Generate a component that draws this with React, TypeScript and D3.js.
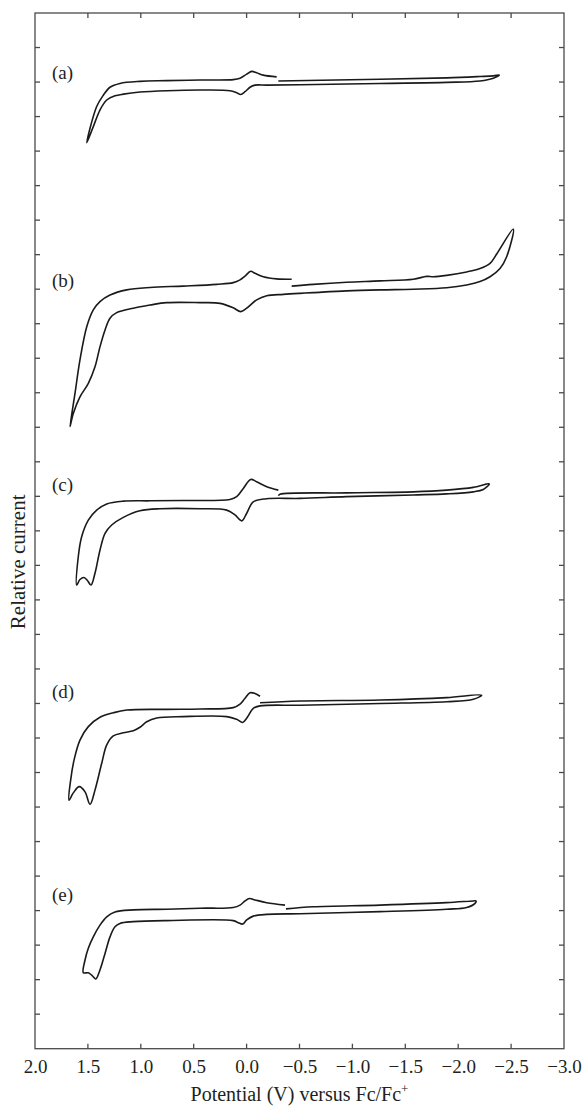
import React, { useEffect, useRef } from "react";
import * as d3 from "d3";

const W = 584;
const H = 1106;
const plot = { left: 35, right: 564, top: 13, bottom: 1048.7 };

const xTickValues = [2.0, 1.5, 1.0, 0.5, 0.0, -0.5, -1.0, -1.5, -2.0, -2.5, -3.0];
const yTickValues = [0, 1, 2, 3, 4, 5, 6, 7, 8, 9, 10, 11, 12, 13, 14, 15, 16, 17, 18, 19, 20, 21, 22, 23, 24, 25, 26, 27, 28, 29, 30];
const panelLabels = ["(a)", "(b)", "(c)", "(d)", "(e)"];
const panelLabelLevels = [28.09, 22.06, 16.15, 10.16, 4.28];
const panelLabelPotential = 1.84;

type P = [number, number];

// Panel (a)
const aLower: P[] = [[1.511,26.24],[1.449,26.71],[1.386,27.19],[1.322,27.48],[1.244,27.60],[1.165,27.65],[1.008,27.71],[0.755,27.75],[0.44,27.77],[0.157,27.75],[0.094,27.69],[0.056,27.64],[0.015,27.72],[-0.032,27.85],[-0.079,27.91],[-0.19,27.91],[-0.505,27.92],[-1.261,27.96],[-1.891,27.99],[-2.206,28.03],[-2.332,28.11],[-2.389,28.20]];
const aUpperLeft: P[] = [[1.511,26.24],[1.417,27.29],[1.354,27.62],[1.291,27.85],[1.197,27.96],[1.008,28.02],[0.755,28.04],[0.44,28.06],[0.126,28.07],[0.062,28.11],[-0.001,28.23],[-0.048,28.31],[-0.095,28.27],[-0.158,28.20],[-0.284,28.15]];
const aUpperRight: P[] = [[-0.30,28.03],[-1.261,28.08],[-1.891,28.12],[-2.206,28.16],[-2.332,28.18],[-2.389,28.20]];

// Panel (b)
const bLower: P[] = [[1.669,18.02],[1.638,18.40],[1.575,18.88],[1.496,19.27],[1.433,19.75],[1.386,20.33],[1.338,20.82],[1.291,21.16],[1.228,21.32],[1.071,21.45],[0.913,21.54],[0.755,21.61],[0.44,21.61],[0.251,21.59],[0.126,21.46],[0.056,21.35],[-0.001,21.45],[-0.095,21.69],[-0.19,21.81],[-0.347,21.85],[-0.505,21.88],[-0.63,21.90],[-0.946,21.95],[-1.261,21.98],[-1.576,22.00],[-1.891,22.04],[-2.08,22.12],[-2.206,22.22],[-2.301,22.36],[-2.395,22.60],[-2.458,22.94],[-2.521,23.74]];
const bUpperLeft: P[] = [[1.669,18.02],[1.622,18.98],[1.575,19.95],[1.511,20.91],[1.449,21.40],[1.386,21.64],[1.291,21.83],[1.133,21.98],[0.913,22.05],[0.598,22.09],[0.283,22.14],[0.126,22.19],[0.062,22.27],[0.015,22.38],[-0.039,22.52],[-0.079,22.46],[-0.158,22.36],[-0.284,22.30],[-0.426,22.29]];
const bUpperRight: P[] = [[-0.426,22.09],[-0.63,22.14],[-0.946,22.20],[-1.261,22.24],[-1.576,22.29],[-1.702,22.37],[-1.765,22.36],[-1.891,22.40],[-2.08,22.50],[-2.206,22.60],[-2.301,22.75],[-2.364,23.02],[-2.521,23.74]];

// Panel (c)
const cLower: P[] = [[1.606,13.43],[1.575,13.59],[1.537,13.65],[1.506,13.57],[1.471,13.43],[1.433,13.77],[1.386,14.44],[1.338,14.93],[1.275,15.17],[1.165,15.39],[1.008,15.58],[0.819,15.64],[0.44,15.64],[0.188,15.60],[0.11,15.46],[0.046,15.29],[-0.001,15.51],[-0.063,15.84],[-0.19,15.93],[-0.505,15.94],[-0.946,15.99],[-1.576,16.04],[-1.891,16.07],[-2.143,16.13],[-2.237,16.20],[-2.294,16.36]];
const cUpperLeft: P[] = [[1.606,13.43],[1.591,14.25],[1.559,14.83],[1.496,15.31],[1.417,15.60],[1.322,15.78],[1.165,15.86],[0.913,15.87],[0.598,15.88],[0.157,15.91],[0.094,15.99],[0.031,16.23],[-0.039,16.49],[-0.095,16.42],[-0.19,16.28],[-0.30,16.18]];
const cUpperRight: P[] = [[-0.30,16.02],[-0.316,16.06],[-0.946,16.10],[-1.576,16.13],[-1.891,16.18],[-2.143,16.26],[-2.294,16.36]];

// Panel (d)
const dLower: P[] = [[1.679,7.20],[1.638,7.41],[1.581,7.59],[1.527,7.44],[1.48,7.08],[1.433,7.49],[1.37,8.26],[1.322,8.80],[1.26,9.06],[1.165,9.15],[1.071,9.21],[1.008,9.31],[0.944,9.47],[0.85,9.58],[0.598,9.62],[0.188,9.62],[0.094,9.54],[0.037,9.45],[-0.007,9.60],[-0.063,9.86],[-0.127,9.93],[-0.505,9.95],[-1.261,10.00],[-1.891,10.05],[-2.143,10.12],[-2.222,10.24]];
const dUpperLeft: P[] = [[1.679,7.20],[1.663,7.78],[1.631,8.36],[1.575,8.94],[1.496,9.33],[1.386,9.60],[1.26,9.73],[1.133,9.81],[0.755,9.83],[0.44,9.84],[0.126,9.88],[0.062,9.98],[0.015,10.15],[-0.032,10.31],[-0.079,10.29],[-0.127,10.21]];
const dUpperRight: P[] = [[-0.127,10.02],[-0.505,10.07],[-1.261,10.10],[-1.891,10.17],[-2.222,10.24]];

// Panel (e)
const eLower: P[] = [[1.543,2.20],[1.496,2.20],[1.464,2.13],[1.426,2.02],[1.386,2.28],[1.338,2.76],[1.291,3.24],[1.244,3.53],[1.197,3.63],[1.071,3.68],[0.755,3.71],[0.126,3.71],[0.078,3.65],[0.037,3.61],[-0.001,3.73],[-0.063,3.84],[-0.19,3.89],[-0.505,3.91],[-1.261,3.97],[-1.891,4.04],[-2.08,4.09],[-2.159,4.21],[-2.168,4.28]];
const eUpperLeft: P[] = [[1.543,2.20],[1.527,2.57],[1.496,2.91],[1.449,3.24],[1.386,3.58],[1.322,3.82],[1.244,3.96],[1.071,4.02],[0.755,4.04],[0.44,4.07],[0.126,4.09],[0.062,4.16],[0.015,4.28],[-0.026,4.35],[-0.079,4.31],[-0.19,4.23],[-0.363,4.16]];
const eUpperRight: P[] = [[-0.372,4.05],[-0.63,4.11],[-1.261,4.16],[-1.891,4.23],[-2.143,4.28],[-2.168,4.28]];

const panels = [
  { lower: aLower, upperLeft: aUpperLeft, upperRight: aUpperRight },
  { lower: bLower, upperLeft: bUpperLeft, upperRight: bUpperRight },
  { lower: cLower, upperLeft: cUpperLeft, upperRight: cUpperRight },
  { lower: dLower, upperLeft: dUpperLeft, upperRight: dUpperRight },
  { lower: eLower, upperLeft: eUpperLeft, upperRight: eUpperRight },
];

function compose(p: { lower: P[]; upperLeft: P[]; upperRight: P[] }): P[] {
  const raw = [...p.upperRight, ...p.lower.slice().reverse(), ...p.upperLeft];
  const out: P[] = [];
  raw.forEach((q) => {
    const last = out[out.length - 1];
    if (!last || last[0] !== q[0] || last[1] !== q[1]) out.push(q);
  });
  return out;
}

const FONT = '"Liberation Serif", "Times New Roman", Times, serif';

export default function App() {
  const ref = useRef<SVGSVGElement | null>(null);

  useEffect(() => {
    const svg = d3.select(ref.current);
    svg.selectAll("*").remove();

    const x = d3.scaleLinear().domain([2.0, -3.0]).range([plot.left, plot.right]);
    const y = d3.scaleLinear().domain([0, 30]).range([plot.bottom, plot.top]);
    const frameColor = "#4a4a4a";
    const textColor = "#231f20";

    const inner = xTickValues.filter((v) => v < 2.0 && v > -3.0);
    const innerY = yTickValues.filter((v) => v > 0 && v < 30);

    // bottom axis labels
    const gB = svg.append("g").attr("transform", `translate(0,${plot.bottom})`);
    gB.call(
      d3.axisBottom(x).tickValues(xTickValues).tickSize(0).tickPadding(0).tickFormat(d3.format(".1f")) as any
    );
    gB.attr("font-family", null).attr("font-size", null);
    gB.select(".domain").remove();
    gB.selectAll("text")
      .style("font-family", FONT)
      .style("font-size", "19px")
      .attr("fill", textColor)
      .attr("dy", null)
      .attr("y", 24);

    const tickG = svg.append("g").attr("stroke", frameColor).attr("stroke-width", 1.3);
    inner.forEach((v) => {
      tickG.append("line").attr("x1", x(v)).attr("x2", x(v)).attr("y1", plot.bottom).attr("y2", plot.bottom - 5);
      tickG.append("line").attr("x1", x(v)).attr("x2", x(v)).attr("y1", plot.top).attr("y2", plot.top + 5);
    });
    innerY.forEach((v) => {
      tickG.append("line").attr("x1", plot.left).attr("x2", plot.left + 5).attr("y1", y(v)).attr("y2", y(v));
      tickG.append("line").attr("x1", plot.right).attr("x2", plot.right - 5).attr("y1", y(v)).attr("y2", y(v));
    });

    svg.append("rect")
      .attr("x", plot.left).attr("y", plot.top)
      .attr("width", plot.right - plot.left).attr("height", plot.bottom - plot.top)
      .attr("fill", "none").attr("stroke", frameColor).attr("stroke-width", 1.3);

    const line = d3.line<P>().x((d) => x(d[0])).y((d) => y(d[1])).curve(d3.curveCatmullRom.alpha(0.5));

    panels.forEach((p) => {
      svg.append("path")
        .attr("d", line(compose(p)) as string)
        .attr("fill", "none")
        .attr("stroke", "#1a1a1a")
        .attr("stroke-width", 1.6)
        .attr("stroke-linejoin", "round");
    });

    panelLabels.forEach((t, i) => {
      svg.append("text")
        .attr("x", x(panelLabelPotential))
        .attr("y", y(panelLabelLevels[i]))
        .style("font-family", FONT).style("font-size", "19px").attr("fill", textColor)
        .text(t);
    });

    const xl = svg.append("text")
      .attr("x", (plot.left + plot.right) / 2)
      .attr("y", 1101)
      .attr("text-anchor", "middle")
      .style("font-family", FONT).style("font-size", "20px").attr("fill", textColor);
    xl.append("tspan").text("Potential (V) versus Fc/Fc");
    xl.append("tspan").style("font-size", "13px").attr("dy", -8).text("+");

    svg.append("text")
      .attr("transform", `translate(25,${(plot.top + plot.bottom) / 2 + 31}) rotate(-90)`)
      .attr("text-anchor", "middle")
      .style("font-family", FONT).style("font-size", "21px").attr("fill", textColor)
      .text("Relative current");
  }, []);

  return (
    <svg
      ref={ref}
      width={W}
      height={H}
      style={{ position: "absolute", left: 0, top: 0, background: "#fff" }}
    />
  );
}
